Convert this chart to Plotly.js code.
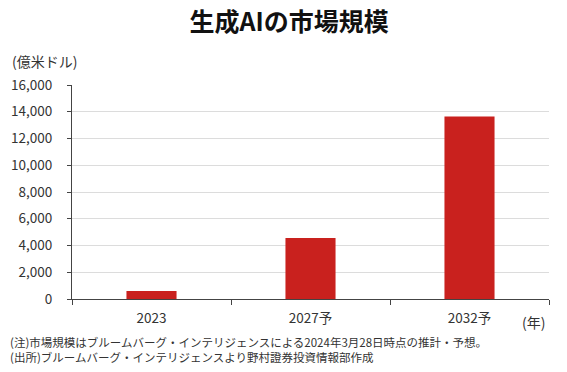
<!DOCTYPE html>
<html>
<head>
<meta charset="utf-8">
<script src="https://cdn.plot.ly/plotly-3.0.1.min.js"></script>
<style>html,body{margin:0;padding:0;background:#fff}#chart{width:567px;height:372px}</style>
</head>
<body>
<div id="chart"></div>
<script>
const categories = ["2023", "2027予", "2032予"];
const marketSize = [600, 4570, 13650];
const yTicks = [0, 2000, 4000, 6000, 8000, 10000, 12000, 14000, 16000];
const yTickLabels = ["0", "2,000", "4,000", "6,000", "8,000", "10,000", "12,000", "14,000", "16,000"];
const titleText = "生成AIの市場規模";
const unitText = "(億米ドル)";
const yearText = "(年)";
const note1 = "(注)市場規模はブルームバーグ・インテリジェンスによる2024年3月28日時点の推計・予想。";
const note2 = "(出所)ブルームバーグ・インテリジェンスより野村證券投資情報部作成";

const FONT = '"Noto Sans CJK JP", "Noto Sans", sans-serif';
const data = [{
  type: "bar",
  x: categories,
  y: marketSize,
  marker: {color: "#C9211E"},
  width: 0.315,
  hoverinfo: "none"
}];
const layout = {
  width: 567, height: 372,
  margin: {l: 72, r: 18, t: 85, b: 73},
  paper_bgcolor: "#fff", plot_bgcolor: "#fff",
  showlegend: false,
  font: {family: FONT, color: "#333", size: 13},
  title: {text: "<b>" + titleText + "</b>", font: {family: FONT, size: 25, color: "#111"}, x: 0.51, xanchor: "center", y: 0.94, yanchor: "middle"},
  xaxis: {
    type: "category",
    tickson: "boundaries",
    ticks: "outside", ticklen: 5, tickcolor: "#444", tickwidth: 1,
    ticklabelstandoff: 7,
    showline: true, linecolor: "#444", linewidth: 1,
    showgrid: false,
    tickfont: {size: 13.5, color: "#333"},
    fixedrange: true
  },
  yaxis: {
    range: [0, 16000],
    tickvals: yTicks, ticktext: yTickLabels,
    ticks: "outside", ticklen: 4, tickcolor: "#444",
    ticklabelstandoff: 12,
    showline: true, linecolor: "#444", linewidth: 1,
    showgrid: true, gridcolor: "#dcdcdc", gridwidth: 1,
    zeroline: false,
    tickfont: {size: 13.5, color: "#333"},
    fixedrange: true
  },
  annotations: [
    {text: unitText, xref: "paper", yref: "paper", x: -0.13, y: 1.11, xanchor: "left", yanchor: "middle", showarrow: false, font: {size: 14, color: "#333"}},
    {text: yearText, xref: "paper", yref: "paper", x: 0.94, y: -0.107, xanchor: "left", yanchor: "middle", showarrow: false, font: {size: 14, color: "#333"}},
    {text: note1, xref: "paper", yref: "paper", x: -0.135, y: -0.2, xanchor: "left", yanchor: "middle", showarrow: false, font: {size: 11.5, color: "#333"}},
    {text: note2, xref: "paper", yref: "paper", x: -0.135, y: -0.27, xanchor: "left", yanchor: "middle", showarrow: false, font: {size: 11.5, color: "#333"}}
  ]
};
Plotly.newPlot("chart", data, layout, {displayModeBar: false, staticPlot: true});
</script>
</body>
</html>
